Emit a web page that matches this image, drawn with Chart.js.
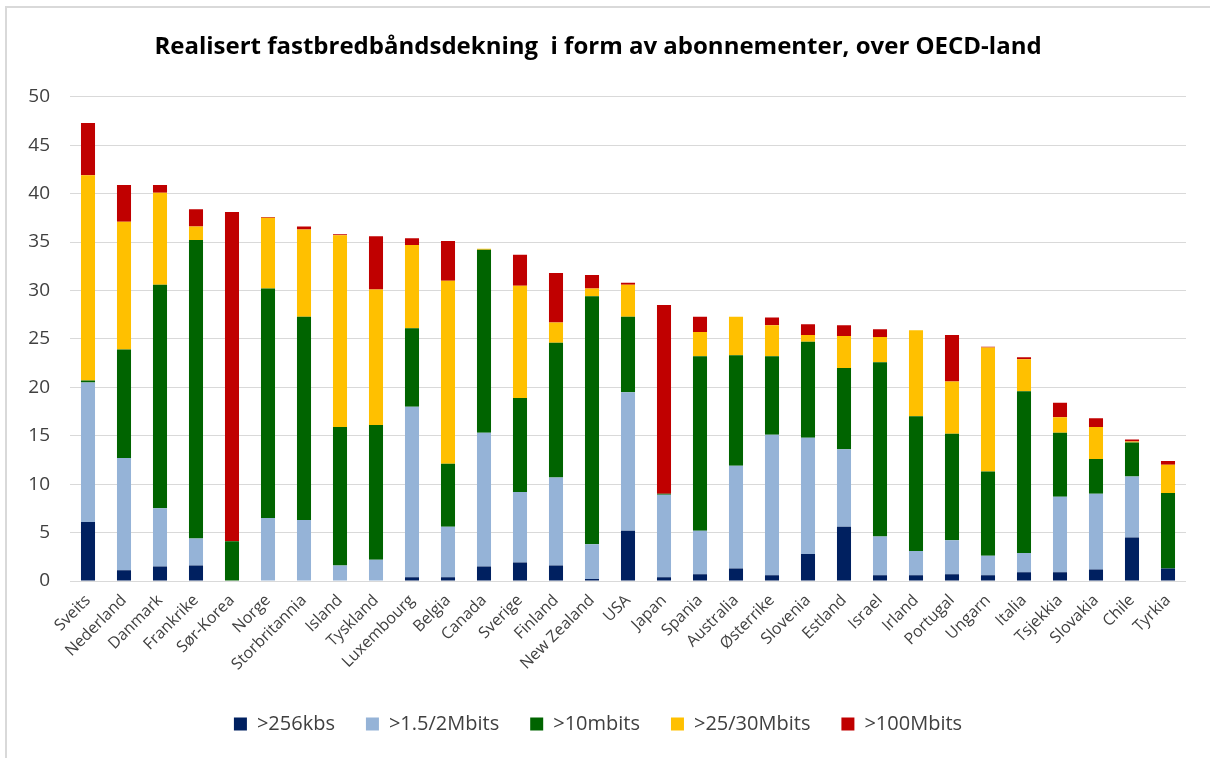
<!DOCTYPE html>
<html>
<head>
<meta charset="utf-8">
<title>Realisert fastbredbåndsdekning</title>
<script src="https://cdn.jsdelivr.net/npm/chart.js@4/dist/chart.umd.min.js"></script>
<style>
  html, body { margin: 0; padding: 0; background: #fff; }
  #frame { position: absolute; left: 0; top: 0; width: 1210px; height: 758px; overflow: hidden; }
  #frame::before {
    content: ''; position: absolute; left: 5px; top: 6px; right: -10px; bottom: -10px;
    border-left: 2px solid #d9d9d9; border-top: 2px solid #d9d9d9;
  }
  canvas { position: absolute; left: 0; top: 0; }
</style>
</head>
<body>
<div id="frame"><canvas id="chart" width="1210" height="758"></canvas></div>
<script>
/* Realisert fastbredbåndsdekning, stacked per OECD country */
const countries = ['Sveits', 'Nederland', 'Danmark', 'Frankrike', 'Sør-Korea', 'Norge', 'Storbritannia',
  'Island', 'Tyskland', 'Luxembourg', 'Belgia', 'Canada', 'Sverige', 'Finland', 'New Zealand', 'USA',
  'Japan', 'Spania', 'Australia', 'Østerrike', 'Slovenia', 'Estland', 'Israel', 'Irland', 'Portugal',
  'Ungarn', 'Italia', 'Tsjekkia', 'Slovakia', 'Chile', 'Tyrkia'];

const seriesNames = ['>256kbs', '>1.5/2Mbits', '>10mbits', '>25/30Mbits', '>100Mbits'];

const kbs256   = [6.1, 1.1, 1.5, 1.6, 0, 0, 0, 0, 0, 0.4, 0.4, 1.5, 1.9, 1.6, 0.2, 5.2,
                  0.4, 0.7, 1.3, 0.6, 2.8, 5.6, 0.6, 0.6, 0.7, 0.6, 0.9, 0.9, 1.2, 4.5, 1.3];
const mbit2    = [14.4, 11.6, 6.0, 2.8, 0, 6.5, 6.3, 1.6, 2.2, 17.6, 5.2, 13.8, 7.3, 9.1, 3.6, 14.3,
                  8.5, 4.5, 10.6, 14.5, 12.0, 8.0, 4.0, 2.5, 3.5, 2.0, 2.0, 7.8, 7.8, 6.3, 0];
const mbit10   = [0.2, 11.2, 23.1, 30.8, 4.1, 23.7, 21.0, 14.3, 13.9, 8.1, 6.5, 18.9, 9.7, 13.9, 25.6, 7.8,
                  0.1, 18.0, 11.4, 8.1, 9.9, 8.4, 18.0, 13.9, 11.0, 8.7, 16.7, 6.6, 3.6, 3.5, 7.8];
const mbit30   = [21.2, 13.2, 9.5, 1.4, 0, 7.3, 9.0, 19.8, 14.0, 8.6, 18.9, 0.1, 11.6, 2.1, 0.8, 3.3,
                  0, 2.5, 4.0, 3.2, 0.7, 3.3, 2.6, 8.9, 5.4, 12.8, 3.3, 1.6, 3.3, 0.1, 2.9];
const mbit100  = [5.4, 3.8, 0.8, 1.8, 34.0, 0.1, 0.3, 0.1, 5.5, 0.7, 4.1, 0, 3.2, 5.1, 1.4, 0.2,
                  19.5, 1.6, 0, 0.8, 1.1, 1.1, 0.8, 0, 4.8, 0.1, 0.2, 1.5, 0.9, 0.2, 0.4];

const yTicks = [0, 5, 10, 15, 20, 25, 30, 35, 40, 45, 50];

const colors = ['#002060', '#95b3d7', '#006400', '#ffc000', '#c00000'];
const values = [kbs256, mbit2, mbit10, mbit30, mbit100];

const FONT = "'Open Sans', 'Noto Sans', sans-serif";
Chart.defaults.font.family = FONT;
Chart.defaults.color = '#595959';

new Chart(document.getElementById('chart'), {
  type: 'bar',
  data: {
    labels: countries,
    datasets: seriesNames.map((name, i) => ({
      label: name,
      data: values[i],
      backgroundColor: colors[i],
      borderWidth: 0,
      categoryPercentage: 1,
      barPercentage: 0.39,
    })),
  },
  options: {
    responsive: false,
    animation: false,
    layout: { padding: { left: 10, right: 24, top: 10, bottom: 14 } },
    plugins: {
      title: {
        display: true,
        text: 'Realisert fastbredbåndsdekning  i form av abonnementer, over OECD-land',
        color: '#000',
        font: { size: 24, weight: 'bold', family: FONT },
        padding: { top: 23, bottom: 35 },
      },
      legend: {
        position: 'bottom',
        labels: { font: { size: 20 }, boxWidth: 13, boxHeight: 13, padding: 31, color: '#404040' },
      },
      tooltip: { enabled: false },
    },
    scales: {
      x: {
        stacked: true,
        grid: { display: false },
        border: { display: false },
        ticks: { font: { size: 16 }, color: '#404040', minRotation: 45, maxRotation: 45, padding: 2 },
        afterFit: s => { s.height = 102; },
      },
      y: {
        stacked: true,
        min: 0, max: 50,
        afterBuildTicks: s => { s.ticks = yTicks.map(v => ({ value: v })); },
        grid: { color: '#d9d9d9', lineWidth: 1, drawTicks: false },
        border: { display: false },
        ticks: { font: { size: 19 }, color: '#404040', padding: 20 },
        afterFit: s => { s.width = 60; },
      },
    },
  },
});
</script>
</body>
</html>
